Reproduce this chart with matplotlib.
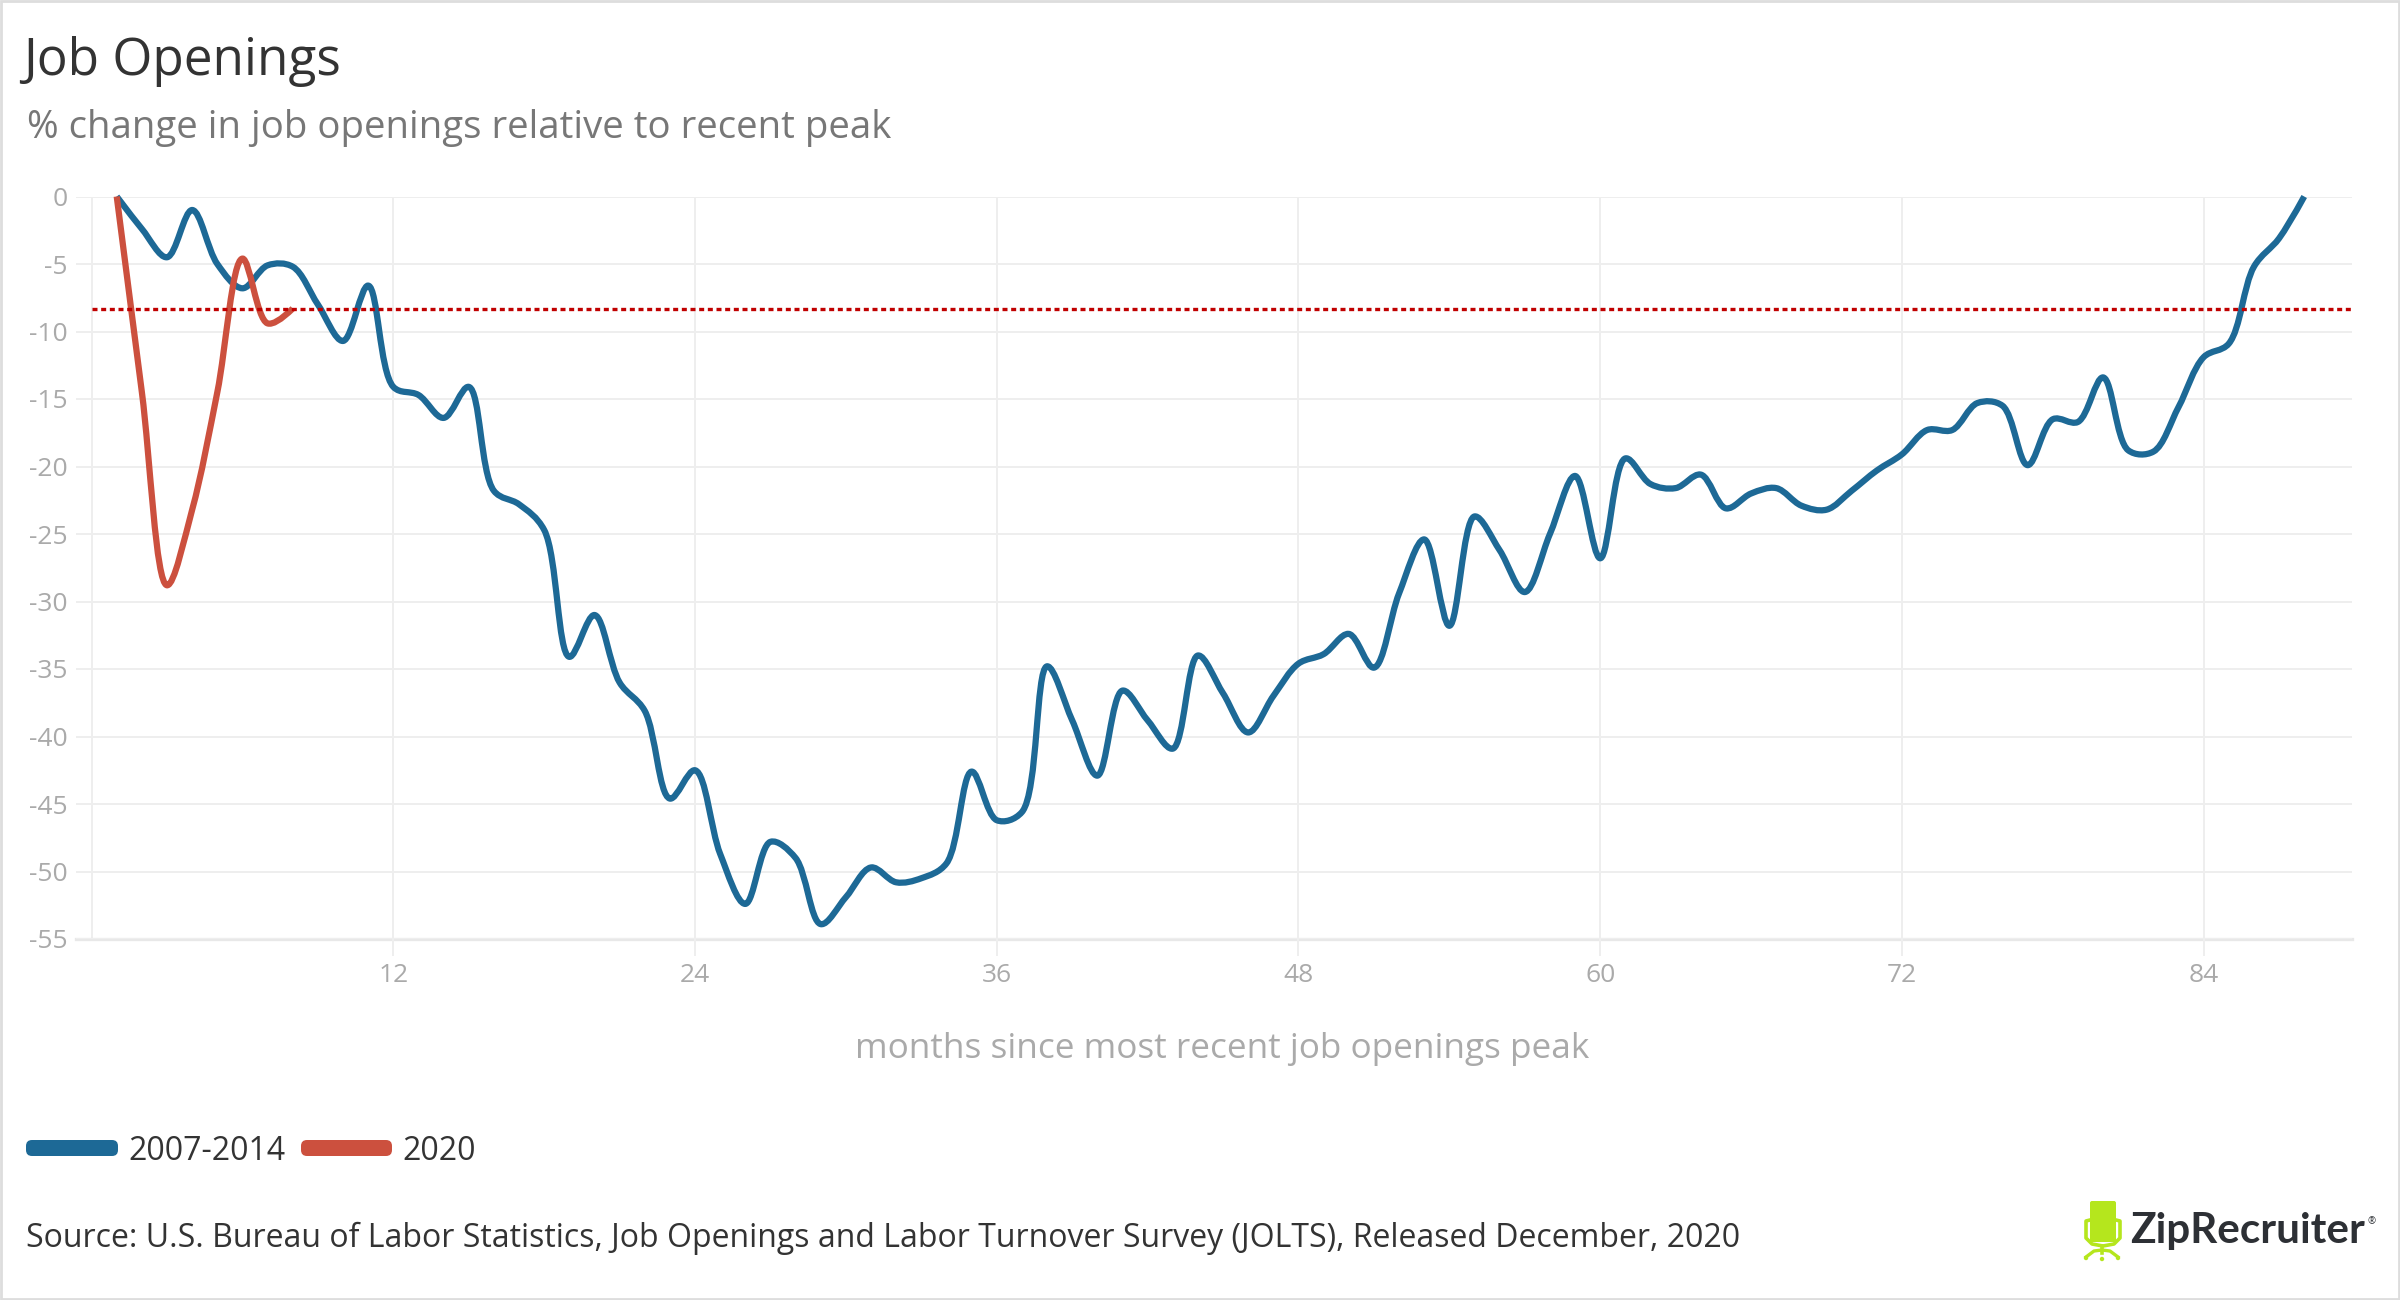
import numpy as np
import matplotlib
matplotlib.use("Agg")
import matplotlib.pyplot as plt
from matplotlib.path import Path
from matplotlib.patches import PathPatch, FancyBboxPatch, Rectangle, Circle

# ---------------- data ----------------
months_2007 = list(range(1, 89))
values_2007 = [
    0.0, -2.4, -4.5, -1.0, -5.0, -6.8, -5.1, -5.2, -8.0, -10.7,
    -6.6, -14.1, -14.7, -16.4, -14.1, -21.8, -22.8, -24.7, -34.1, -31.0,
    -36.0, -38.1, -44.6, -42.5, -48.7, -52.4, -47.8, -49.0, -53.9, -51.9,
    -49.7, -50.8, -50.5, -49.4, -42.6, -46.2, -45.6, -34.8, -38.8, -42.9,
    -36.6, -38.8, -40.9, -34.0, -36.8, -39.7, -37.0, -34.6, -33.9, -32.4,
    -34.9, -29.4, -25.4, -31.8, -23.7, -26.2, -29.3, -25.0, -20.7, -26.8,
    -19.4, -21.3, -21.6, -20.6, -23.1, -22.0, -21.6, -22.9, -23.2, -21.8,
    -20.3, -19.1, -17.3, -17.3, -15.3, -15.5, -19.9, -16.5, -16.7, -13.4,
    -18.8, -18.9, -15.6, -11.9, -10.9, -5.2, -3.1, 0.0,
]
months_2020 = list(range(1, 9))
values_2020 = [0.0, -14.5, -28.8, -23.2, -14.5, -4.6, -9.4, -8.3]
reference_level = -8.3          # latest 2020 reading (dotted line)

x_ticks = [12, 24, 36, 48, 60, 72, 84]
y_ticks = [0, -5, -10, -15, -20, -25, -30, -35, -40, -45, -50, -55]
y_tick_labels = [str(v) for v in y_ticks]

series_labels = ["2007-2014", "2020"]
title = "Job Openings"
subtitle = "% change in job openings relative to recent peak"
x_title = "months since most recent job openings peak"
source = ("Source: U.S. Bureau of Labor Statistics, Job Openings and Labor Turnover "
          "Survey (JOLTS), Released December, 2020")

BLUE = "#1D6996"
RED = "#CC503E"
DOT_RED = "#C00000"
GRID = "#eeeeee"

plt.rcParams["font.family"] = ["Open Sans", "DejaVu Sans"]

W, H = 2400, 1300
fig = plt.figure(figsize=(24, 13), dpi=100)
fig.patch.set_facecolor("white")

# plot area in pixels
L, R, T, B = 76, 2352, 196.5, 939
ax = fig.add_axes([L / W, 1 - B / H, (R - L) / W, (B - T) / H])
XMIN, XMAX = -0.62, 89.9
YMIN, YMAX = -55, 0
ax.set_xlim(XMIN, XMAX)
ax.set_ylim(YMIN, YMAX)
ax.set_facecolor("none")
for s in ax.spines.values():
    s.set_visible(False)

ax.set_yticks(y_ticks)
ax.set_yticklabels(y_tick_labels)
ax.set_xticks(x_ticks)
ax.set_xticklabels([str(v) for v in x_ticks])
ax.tick_params(axis="y", length=0, pad=6, labelsize=19, labelcolor="#aaaaaa")
ax.tick_params(axis="x", length=12.2, width=1.44, color=GRID, pad=5,
               labelsize=19, labelcolor="#aaaaaa")
ax.grid(True, color=GRID, linewidth=1.44, zorder=0)
ax.axvline(0, color=GRID, linewidth=1.44, zorder=0)
ax.axhline(-55, color="#e8e8e8", linewidth=2.4, zorder=0, clip_on=False)
ax.set_axisbelow(True)

# pixel scale for plotly-like spline smoothing
sx = (R - L) / (XMAX - XMIN)
sy = (B - T) / (YMAX - YMIN)


def spline_path(xs, ys, smooth=1.0):
    P = np.column_stack([np.asarray(xs, float) * sx, np.asarray(ys, float) * sy])
    n = len(P)

    def tangent(p0, p1, p2):
        d1 = p0 - p1
        d2 = p2 - p1
        d1a = (d1 @ d1) ** 0.25
        d2a = (d2 @ d2) ** 0.25
        num = (d2a * d2a * d1 - d1a * d1a * d2) * smooth
        den1 = 3 * d2a * (d1a + d2a)
        den2 = 3 * d1a * (d1a + d2a)
        return p1 + num / den1, p1 - num / den2

    tans = [tangent(P[i - 1], P[i], P[i + 1]) for i in range(1, n - 1)]
    verts = [P[0], tans[0][0], P[1]]
    codes = [Path.MOVETO, Path.CURVE3, Path.CURVE3]
    for i in range(2, n - 1):
        verts += [tans[i - 2][1], tans[i - 1][0], P[i]]
        codes += [Path.CURVE4] * 3
    verts += [tans[n - 3][1], P[n - 1]]
    codes += [Path.CURVE3] * 2
    V = np.array(verts)
    V[:, 0] /= sx
    V[:, 1] /= sy
    return Path(V, codes)


ax.add_patch(PathPatch(spline_path(months_2007, values_2007), fill=False,
                       edgecolor=BLUE, linewidth=4.5, capstyle="butt",
                       joinstyle="round", clip_on=False, zorder=3))
ax.add_patch(PathPatch(spline_path(months_2020, values_2020), fill=False,
                       edgecolor=RED, linewidth=4.5, capstyle="butt",
                       joinstyle="round", clip_on=False, zorder=4))
ax.plot([0, XMAX], [reference_level, reference_level], color=DOT_RED,
        linewidth=2.4, linestyle=(0, (1.5, 1.1)), zorder=5, clip_on=False)

# ---------------- overlay in pixel coordinates ----------------
ax0 = fig.add_axes([0, 0, 1, 1], zorder=10)
ax0.set_xlim(0, W)
ax0.set_ylim(H, 0)
ax0.axis("off")
ax0.patch.set_alpha(0)

ax0.add_patch(Rectangle((1, 1), W - 2, H - 2, fill=False, ec="#dddddd", lw=2))

ax0.text(23, 75, title, fontsize=37, color="#333333", va="baseline")
ax0.text(27, 138, subtitle, fontsize=27.6, color="#777777", va="baseline")
ax0.text(1222, 1058, x_title, fontsize=25.3, color="#aaaaaa", ha="center",
         va="baseline")

# legend
ax0.add_patch(FancyBboxPatch((26, 1140), 92, 16,
                             boxstyle="round,pad=0,rounding_size=6",
                             fc=BLUE, ec="none"))
ax0.text(128, 1160, series_labels[0], fontsize=23, color="#333333", va="baseline")
ax0.add_patch(FancyBboxPatch((301, 1140), 91, 16,
                             boxstyle="round,pad=0,rounding_size=6",
                             fc=RED, ec="none"))
ax0.text(402, 1160, series_labels[1], fontsize=23, color="#333333", va="baseline")

ax0.text(26, 1247, source, fontsize=23, color="#333333", va="baseline")

# logo
GREEN = "#B5E61D"
ax0.add_patch(FancyBboxPatch((2090, 1201), 26, 41,
                             boxstyle="round,pad=0,rounding_size=2",
                             fc=GREEN, ec="none"))
ax0.plot([2090, 2086, 2086, 2092, 2103, 2114, 2120, 2120, 2116],
         [1220, 1221, 1238, 1244, 1246, 1244, 1238, 1221, 1220],
         color=GREEN, lw=2.6, solid_joinstyle="round")
ax0.plot([2102, 2102], [1246, 1253], color=GREEN, lw=2.6)
ax0.plot([2086, 2094, 2102, 2110, 2118], [1257, 1251, 1250, 1251, 1257],
         color=GREEN, lw=2.4)
for cx, cy in [(2086, 1258), (2102, 1259), (2118, 1258)]:
    ax0.add_patch(Circle((cx, cy), 2.2, fc=GREEN, ec="none"))
logo = ax0.text(2130, 1243, "ZipRecruiter", fontsize=30, fontweight="bold",
                color="#2D3035", va="baseline", family=["Lato", "DejaVu Sans"])
ax0.text(2368, 1222, "®", fontsize=7, color="#2D3035", va="center")

fig.canvas.draw()
bb = logo.get_window_extent()
logo.set_fontsize(30 * 235 / bb.width)

fig.savefig("out.png", dpi=100, facecolor="white")
